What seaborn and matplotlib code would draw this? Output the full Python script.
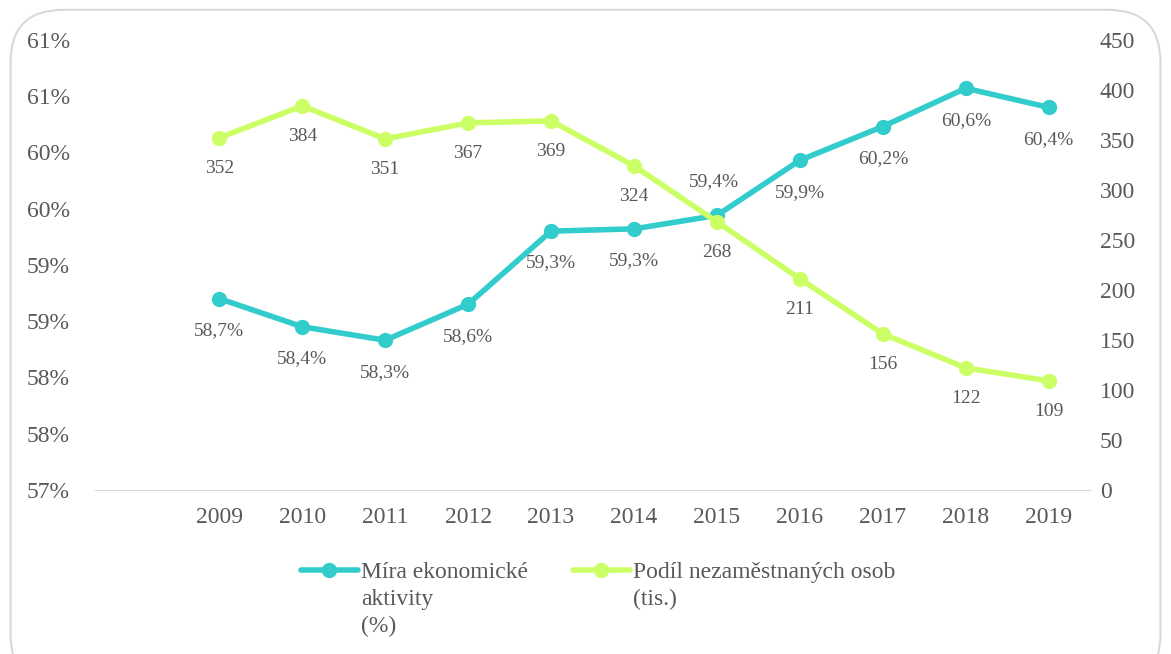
import numpy as np
import pandas as pd
import seaborn as sns
import matplotlib.pyplot as plt
from matplotlib.patches import FancyBboxPatch
from matplotlib.lines import Line2D

# data
years = ["2009", "2010", "2011", "2012", "2013", "2014", "2015", "2016", "2017", "2018", "2019"]
activity = [58.7, 58.45, 58.33, 58.65, 59.3, 59.32, 59.44, 59.93, 60.23, 60.57, 60.4]
activity_labels = ["58,7%", "58,4%", "58,3%", "58,6%", "59,3%", "59,3%", "59,4%", "59,9%", "60,2%", "60,6%", "60,4%"]
unemployed = [352, 384, 351, 367, 369, 324, 268, 211, 156, 122, 109]
left_ticks = [57, 57.5, 58, 58.5, 59, 59.5, 60, 60.5, 61]
left_tick_labels = ["57%", "58%", "58%", "59%", "59%", "60%", "60%", "61%", "61%"]
right_ticks = [0, 50, 100, 150, 200, 250, 300, 350, 400, 450]
legend_lines = [["Míra ekonomické", "aktivity", "(%)"], ["Podíl nezaměstnaných osob", "(tis.)"]]

teal = "#33CCCC"
lime = "#CCFF66"
grey_txt = "#595959"

sns.set_style("white")
plt.rcParams["font.family"] = ["Liberation Serif", "DejaVu Serif"]

df = pd.DataFrame({"year": years, "pos": np.arange(len(years)),
                   "activity": activity, "unemployed": unemployed})

fig = plt.figure(figsize=(11.71, 6.54), dpi=100)
ax = fig.add_axes([0.081, 0.251, 0.85, 0.688])
ax2 = ax.twinx()

sns.lineplot(data=df, x="pos", y="activity", ax=ax, color=teal, linewidth=4,
             marker="o", markersize=11, markeredgewidth=0, zorder=3)
sns.lineplot(data=df, x="pos", y="unemployed", ax=ax2, color=lime, linewidth=4,
             marker="o", markersize=11, markeredgewidth=0, zorder=3)

ax.set_xlim(-1.5, 10.5)
ax.set_ylim(57, 61)
ax2.set_ylim(0, 450)
ax.set_xticks(df["pos"])
ax.set_xticklabels(years)
ax.set_yticks(left_ticks)
ax.set_yticklabels(left_tick_labels)
ax2.set_yticks(right_ticks)

for a in (ax, ax2):
    a.set_xlabel("")
    a.set_ylabel("")
    for s in a.spines.values():
        s.set_visible(False)
    a.tick_params(length=0, labelsize=17, labelcolor=grey_txt)
ax.spines["bottom"].set_visible(True)
ax.spines["bottom"].set_color("#D9D9D9")
ax.tick_params(axis="x", pad=12)
ax.tick_params(axis="y", pad=18)
ax2.tick_params(axis="y", pad=7)

# data labels
for i, (v, lab) in enumerate(zip(activity, activity_labels)):
    dy = 24 if years[i] == "2015" else -23
    ax.annotate(lab, (i, v), xytext=(-2 if dy > 0 else 0, dy), textcoords="offset points",
                ha="center", va="center", fontsize=14, color=grey_txt)
for i, v in enumerate(unemployed):
    ax2.annotate(str(v), (i, v), xytext=(0, -22), textcoords="offset points",
                 ha="center", va="center", fontsize=14, color=grey_txt)

# legend: first lines in the legend, further lines added below them
handles = [Line2D([0], [0], color=teal, lw=4, marker="o", markersize=11, markeredgewidth=0),
           Line2D([0], [0], color=lime, lw=4, marker="o", markersize=11, markeredgewidth=0)]
leg = fig.legend(handles, [l[0] for l in legend_lines],
                 loc="center left", bbox_to_anchor=(0.257, 0.125), ncol=2, frameon=False,
                 fontsize=17, handlelength=2.4, handletextpad=0.15, columnspacing=1.9,
                 borderaxespad=0, borderpad=0)
for t in leg.get_texts():
    t.set_color(grey_txt)

fig.canvas.draw()
for t, lines in zip(leg.get_texts(), legend_lines):
    bb = t.get_window_extent()
    yc = (bb.y0 + bb.y1) / 2
    for k, line in enumerate(lines[1:], start=1):
        fig.text(bb.x0 / fig.bbox.width, (yc - 27 * k) / fig.bbox.height, line,
                 ha="left", va="center", fontsize=17, color=grey_txt)

# rounded outer frame
frame = FancyBboxPatch((0.009, -0.05), 0.982, 1.035, boxstyle="round,pad=0,rounding_size=0.045",
                       transform=fig.transFigure, fill=False, edgecolor="#D9D9D9", linewidth=1.5,
                       mutation_aspect=1171 / 654)
fig.patches.append(frame)

fig.savefig("out.png", dpi=100)
